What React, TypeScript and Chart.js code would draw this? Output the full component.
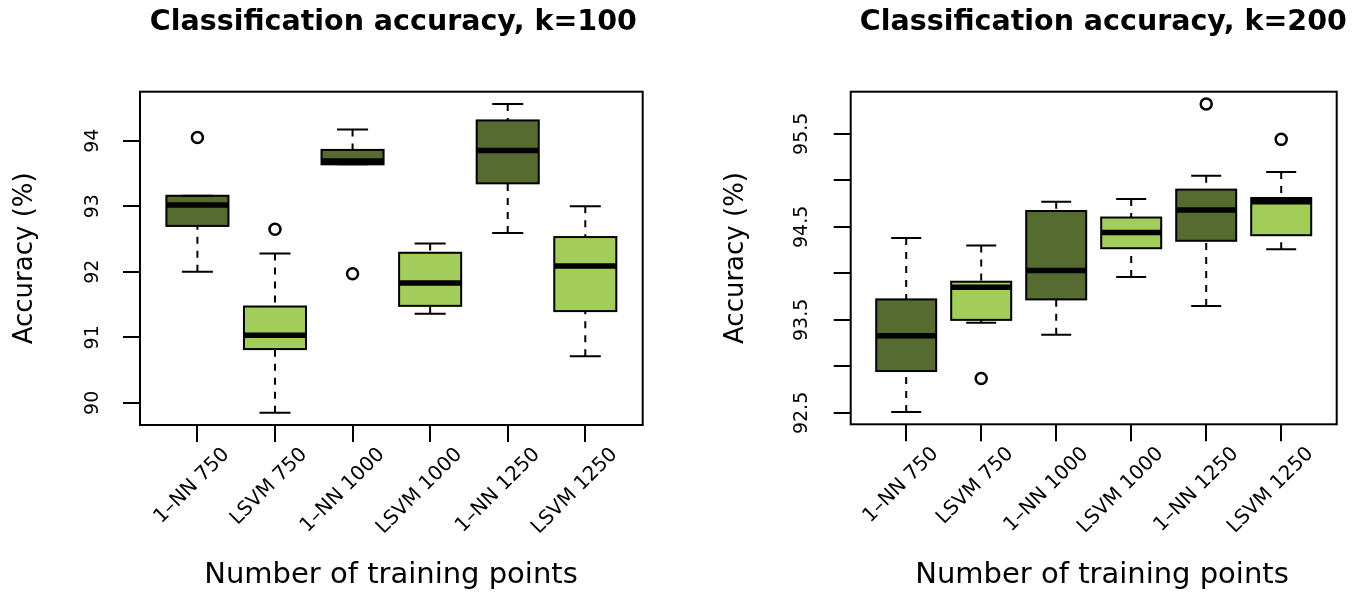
import React, { useEffect, useRef } from 'react';
import { Chart, registerables } from 'chart.js';

Chart.register(...registerables);

// ---------- data ----------
const categories = ['1–NN 750', 'LSVM 750', '1–NN 1000', 'LSVM 1000', '1–NN 1250', 'LSVM 1250'];
const DARK = '#556B2F';
const LIGHT = '#A2CD5A';
const boxColors = [DARK, LIGHT, DARK, LIGHT, DARK, LIGHT];

// k = 100
const k100Min = [92.0, 89.85, 93.64, 91.36, 92.59, 90.71];
const k100Q1 = [92.7, 90.82, 93.64, 91.48, 93.35, 91.4];
const k100Median = [93.02, 91.03, 93.69, 91.83, 93.85, 92.09];
const k100Q3 = [93.16, 91.47, 93.86, 92.29, 94.31, 92.53];
const k100Max = [93.16, 92.28, 94.17, 92.43, 94.56, 93.0];
const k100Outliers: (number | null)[] = [94.05, 92.65, 91.97, null, null, null];
const k100TickValues = [90, 91, 92, 93, 94];
const k100TickLabels = ['90', '91', '92', '93', '94'];

// k = 200
const k200Min = [92.51, 93.47, 93.34, 93.96, 93.65, 94.26];
const k200Q1 = [92.95, 93.5, 93.72, 94.27, 94.35, 94.41];
const k200Median = [93.33, 93.85, 94.03, 94.44, 94.68, 94.77];
const k200Q3 = [93.72, 93.91, 94.67, 94.6, 94.9, 94.81];
const k200Max = [94.38, 94.3, 94.77, 94.8, 95.05, 95.09];
const k200Outliers: (number | null)[] = [null, 92.87, null, null, 95.82, 95.44];
const k200TickValues = [92.5, 93, 93.5, 94, 94.5, 95, 95.5];
const k200TickLabels = ['92.5', '', '93.5', '', '94.5', '', '95.5'];

const titleK100 = 'Classification accuracy, k=100';
const titleK200 = 'Classification accuracy, k=200';
const xTitle = 'Number of training points';
const yTitle = 'Accuracy (%)';

const FONT = '"DejaVu Sans", "Liberation Sans", sans-serif';

type Stats = {
  min: number[]; q1: number[]; median: number[]; q3: number[]; max: number[];
  outliers: (number | null)[]; tickValues: number[]; tickLabels: string[];
};

type Layout = {
  padLeft: number; padRight: number; padTop: number;
  yAxisWidth: number; xAxisHeight: number; yTickPad: number;
  titleX: number; xTitleX: number; yTitleX: number;
};

function makeChart(canvas: HTMLCanvasElement, s: Stats, title: string, L: Layout) {
  const all = [...s.min, ...s.max, ...(s.outliers.filter((v) => v != null) as number[])];
  const lo = Math.min(...all);
  const hi = Math.max(...all);
  const ext = (hi - lo) * 0.04;
  const xExt = categories.length * 0.04;

  const extras = {
    id: 'boxExtras',
    afterDatasetsDraw(chart: any) {
      const { ctx, scales, chartArea } = chart;
      const x = scales.x;
      const y = scales.y;
      const meta = chart.getDatasetMeta(0);
      ctx.save();
      ctx.strokeStyle = '#000';
      s.median.forEach((m, i) => {
        const bar = meta.data[i];
        const half = bar.width / 2;
        const cx = x.getPixelForValue(i + 1);
        // whiskers
        ctx.lineWidth = 2;
        ctx.setLineDash([7, 7]);
        ctx.beginPath();
        ctx.moveTo(cx, y.getPixelForValue(s.min[i]));
        ctx.lineTo(cx, y.getPixelForValue(s.q1[i]));
        ctx.moveTo(cx, y.getPixelForValue(s.max[i]));
        ctx.lineTo(cx, y.getPixelForValue(s.q3[i]));
        ctx.stroke();
        ctx.setLineDash([]);
        // staples
        ctx.beginPath();
        ctx.moveTo(cx - half / 2, y.getPixelForValue(s.min[i]));
        ctx.lineTo(cx + half / 2, y.getPixelForValue(s.min[i]));
        ctx.moveTo(cx - half / 2, y.getPixelForValue(s.max[i]));
        ctx.lineTo(cx + half / 2, y.getPixelForValue(s.max[i]));
        ctx.stroke();
        // box outline (centered on edges)
        ctx.strokeRect(cx - half, y.getPixelForValue(s.q3[i]), half * 2,
          y.getPixelForValue(s.q1[i]) - y.getPixelForValue(s.q3[i]));
        // median
        ctx.lineWidth = 5.5;
        ctx.beginPath();
        ctx.moveTo(cx - half, y.getPixelForValue(m));
        ctx.lineTo(cx + half, y.getPixelForValue(m));
        ctx.stroke();
      });
      // frame
      ctx.lineWidth = 2;
      ctx.strokeRect(chartArea.left, chartArea.top, chartArea.right - chartArea.left, chartArea.bottom - chartArea.top);
      ctx.restore();
    },
    afterDraw(chart: any) {
      const { ctx, chartArea } = chart;
      ctx.save();
      ctx.fillStyle = '#000';
      ctx.textAlign = 'center';
      ctx.textBaseline = 'alphabetic';
      ctx.font = `bold 28.5px ${FONT}`;
      ctx.fillText(title, L.titleX, 30);
      ctx.font = `29px ${FONT}`;
      ctx.fillText(xTitle, L.xTitleX, 583);
      ctx.translate(L.yTitleX, (chartArea.top + chartArea.bottom) / 2);
      ctx.rotate(-Math.PI / 2);
      ctx.font = `26px ${FONT}`;
      ctx.fillText(yTitle, 0, 0);
      ctx.restore();
    },
  };

  return new Chart(canvas, {
    type: 'bar',
    data: {
      datasets: [
        {
          type: 'bar',
          data: categories.map((_, i) => ({ x: i + 1, y: [s.q1[i], s.q3[i]] })) as any,
          backgroundColor: boxColors,
          borderWidth: 0,
          barPercentage: 0.8,
          categoryPercentage: 1,
        },
        {
          type: 'scatter',
          data: s.outliers
            .map((v, i) => (v == null ? null : { x: i + 1, y: v }))
            .filter((p) => p != null) as any,
          pointRadius: 5.5,
          pointBorderWidth: 2.5,
          pointBorderColor: '#000',
          pointBackgroundColor: 'rgba(0,0,0,0)',
        },
      ],
    },
    options: {
      animation: false,
      responsive: false,
      maintainAspectRatio: false,
      events: [],
      layout: { padding: { left: L.padLeft, right: L.padRight, top: L.padTop, bottom: 0 } },
      plugins: { legend: { display: false }, tooltip: { enabled: false }, title: { display: false } },
      scales: {
        x: {
          type: 'linear',
          position: 'bottom',
          offset: false,
          min: 1 - 0.5 - xExt,
          max: categories.length + 0.5 + xExt,
          afterBuildTicks: (axis: any) => {
            axis.ticks = categories.map((_, i) => ({ value: i + 1 }));
          },
          afterFit: (axis: any) => {
            axis.height = L.xAxisHeight;
          },
          ticks: {
            autoSkip: false,
            minRotation: 45,
            maxRotation: 45,
            labelOffset: 29,
            padding: 1,
            color: '#000',
            font: { family: FONT, size: 20 },
            callback: (v: any) => categories[Math.round(Number(v)) - 1] ?? '',
          },
          grid: { offset: false, drawOnChartArea: false, drawTicks: true, tickLength: 17, color: '#000', lineWidth: 2 },
          border: { display: false },
        },
        y: {
          type: 'linear',
          min: lo - ext,
          max: hi + ext,
          afterBuildTicks: (axis: any) => {
            axis.ticks = s.tickValues.map((v) => ({ value: v }));
          },
          afterFit: (axis: any) => {
            axis.width = L.yAxisWidth;
          },
          ticks: {
            minRotation: 90,
            maxRotation: 90,
            crossAlign: 'center',
            padding: L.yTickPad,
            color: '#000',
            font: { family: FONT, size: 19 },
            callback: (v: any) => {
              const idx = s.tickValues.findIndex((t) => Math.abs(t - Number(v)) < 1e-9);
              return idx >= 0 ? s.tickLabels[idx] : '';
            },
          },
          grid: { drawOnChartArea: false, drawTicks: true, tickLength: 17, color: '#000', lineWidth: 2 },
          border: { display: false },
        },
      },
    } as any,
    plugins: [extras],
  });
}

export default function App() {
  const leftRef = useRef<HTMLCanvasElement>(null);
  const rightRef = useRef<HTMLCanvasElement>(null);

  useEffect(() => {
    const c1 = makeChart(
      leftRef.current!,
      { min: k100Min, q1: k100Q1, median: k100Median, q3: k100Q3, max: k100Max, outliers: k100Outliers, tickValues: k100TickValues, tickLabels: k100TickLabels },
      titleK100,
      { padLeft: 0, padRight: 38.3, padTop: 91.7, yAxisWidth: 140, xAxisHeight: 169, yTickPad: 18, titleX: 393.3, xTitleX: 391, yTitleX: 32 }
    );
    const c2 = makeChart(
      rightRef.current!,
      { min: k200Min, q1: k200Q1, median: k200Median, q3: k200Q3, max: k200Max, outliers: k200Outliers, tickValues: k200TickValues, tickLabels: k200TickLabels },
      titleK200,
      { padLeft: 0, padRight: 25.3, padTop: 91.7, yAxisWidth: 169.7, xAxisHeight: 169.7, yTickPad: 10, titleX: 422.3, xTitleX: 421, yTitleX: 62 }
    );
    return () => {
      c1.destroy();
      c2.destroy();
    };
  }, []);

  return (
    <div style={{ position: 'fixed', left: 0, top: 0, width: 1362, height: 594, display: 'flex', background: '#fff' }}>
      <canvas ref={leftRef} width={681} height={594} style={{ display: 'block', width: 681, height: 594 }} />
      <canvas ref={rightRef} width={681} height={594} style={{ display: 'block', width: 681, height: 594 }} />
    </div>
  );
}
